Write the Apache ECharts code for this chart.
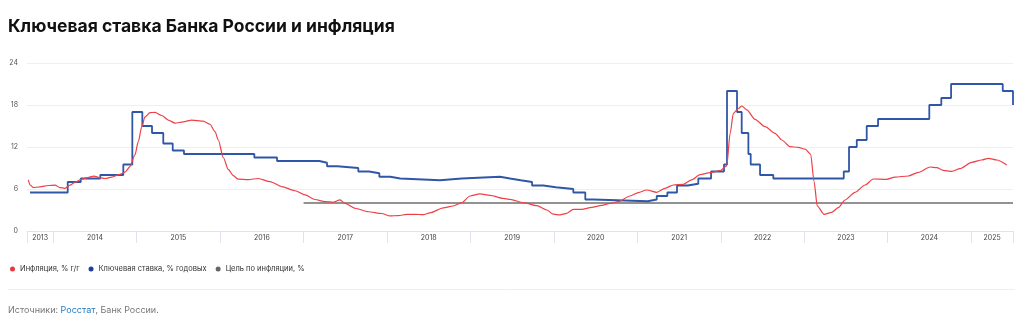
<!DOCTYPE html>
<html>
<head>
<meta charset="utf-8">
<script src="https://cdn.jsdelivr.net/npm/echarts@6/dist/echarts.min.js"></script>
<style>
  html, body { margin: 0; padding: 0; background: #fff; }
  #chart { width: 1023px; height: 327px; }
</style>
</head>
<body>
<div id="chart"></div>
<script>
// Time is expressed in decimal years.
const xStart = 2013.686;
const xEnd = 2025.501;

// Year boundaries and the years named between them
const yearBoundaries = [2014, 2015, 2016, 2017, 2018, 2019, 2020, 2021, 2022, 2023, 2024, 2025];
const yearNames = ['2013', '2014', '2015', '2016', '2017', '2018', '2019', '2020', '2021', '2022', '2023', '2024', '2025'];

// Value-axis ticks
const valueTicks = [0, 6, 12, 18, 24];

// Key rate: date each level takes effect, % per annum
const keyRateDates = [
  2013.722, 2014.174, 2014.330, 2014.564, 2014.840, 2014.948,
  2015.068, 2015.184, 2015.319, 2015.432, 2015.567,
  2016.410, 2016.682,
  2017.189, 2017.281, 2017.404, 2017.656, 2017.784, 2017.908,
  2018.040, 2018.159, 2018.635, 2018.895,
  2019.354, 2019.474, 2019.602, 2019.738, 2019.873,
  2020.022, 2020.232, 2020.376, 2020.472,
  2021.124, 2021.232, 2021.359, 2021.475, 2021.603, 2021.730, 2021.883,
  2022.038, 2022.074, 2022.194, 2022.250, 2022.330, 2022.358, 2022.470, 2022.629,
  2023.473, 2023.536, 2023.629, 2023.748, 2023.884,
  2024.498, 2024.642, 2024.759,
  2025.378, 2025.501
];
const keyRateValues = [
  5.5, 7, 7.5, 8, 9.5, 17,
  15, 14, 12.5, 11.5, 11,
  10.5, 10,
  9.75, 9.25, 9, 8.5, 8.25, 7.75,
  7.5, 7.25, 7.5, 7.75,
  7.5, 7.25, 7, 6.5, 6.25,
  6, 5.5, 4.5, 4.25,
  4.5, 5, 5.5, 6.5, 6.75, 7.5, 8.5,
  9.5, 20, 17, 14, 11, 9.5, 8, 7.5,
  8.5, 12, 13, 15, 16,
  18, 19, 21,
  20, 18
];

// Inflation, % year over year
const inflationDates = [
  2013.702, 2013.722, 2013.762, 2013.842, 2013.941,
  2014.022, 2014.081, 2014.141, 2014.201, 2014.261, 2014.341, 2014.401, 2014.489, 2014.561, 2014.621, 2014.701, 2014.800, 2014.860, 2014.920, 2014.980,
  2015.020, 2015.061, 2015.100, 2015.160, 2015.220, 2015.300, 2015.379, 2015.460, 2015.559, 2015.660, 2015.798, 2015.879, 2015.939, 2015.978,
  2016.038, 2016.098, 2016.158, 2016.218, 2016.338, 2016.458, 2016.598, 2016.738, 2016.898,
  2017.018, 2017.137, 2017.257, 2017.357, 2017.437, 2017.497, 2017.617, 2017.776, 2017.936,
  2018.036, 2018.135, 2018.236, 2018.335, 2018.435, 2018.515, 2018.675, 2018.794, 2018.895, 2018.995,
  2019.114, 2019.234, 2019.394, 2019.474, 2019.633, 2019.794, 2019.914, 2019.993,
  2020.073, 2020.153, 2020.232, 2020.333, 2020.453, 2020.573, 2020.672, 2020.772, 2020.912,
  2021.011, 2021.112, 2021.232, 2021.331, 2021.431, 2021.551, 2021.651, 2021.751, 2021.871, 2021.991,
  2022.071, 2022.111, 2022.150, 2022.210, 2022.251, 2022.311, 2022.410, 2022.530, 2022.650, 2022.730, 2022.830, 2022.929,
  2023.009, 2023.077, 2023.117, 2023.156, 2023.237, 2023.329, 2023.408, 2023.488, 2023.608, 2023.728, 2023.827, 2023.988,
  2024.088, 2024.247, 2024.367, 2024.507, 2024.587, 2024.666, 2024.767, 2024.866,
  2025.006, 2025.126, 2025.206, 2025.306, 2025.426
];
const inflationValues = [
  7.3, 6.6, 6.2, 6.3, 6.5,
  6.55, 6.2, 6.1, 6.55, 6.95, 7.4, 7.6, 7.85, 7.6, 7.5, 7.7, 8.1, 8.4, 9.2, 10.9,
  12.8, 14.9, 16.3, 16.9, 16.95, 16.5, 15.85, 15.4, 15.6, 15.85, 15.7, 15.25, 14.2, 13.0,
  10.5, 8.8, 7.9, 7.4, 7.35, 7.5, 7.05, 6.35, 5.75,
  5.15, 4.5, 4.2, 4.1, 4.45, 3.95, 3.25, 2.75, 2.5,
  2.15, 2.2, 2.38, 2.38, 2.33, 2.6, 3.3, 3.57, 4.05, 5.0,
  5.3, 5.1, 4.67, 4.52, 4.05, 3.62, 3.0, 2.4,
  2.3, 2.52, 3.1, 3.1, 3.38, 3.67, 3.95, 4.2, 5.0,
  5.48, 5.86, 5.52, 6.1, 6.57, 6.67, 7.3, 8.05, 8.33, 8.62,
  9.3, 13.9, 16.8, 17.5, 17.86, 17.3, 15.95, 14.9, 13.95, 13.0, 12.05, 11.95,
  11.7, 10.95, 7.05, 3.57, 2.38, 2.67, 3.33, 4.43, 5.52, 6.57, 7.43, 7.38,
  7.71, 7.86, 8.38, 9.14, 9.05, 8.67, 8.52, 8.9,
  9.81, 10.14, 10.38, 10.14, 9.43
];

// Inflation target, %
const targetDates = [2017.0, 2025.501];
const targetValues = [4, 4];

const seriesNames = ['Инфляция, % г/г', 'Ключевая ставка, % годовых', 'Цель по инфляции, %'];
const titleText = 'Ключевая ставка Банка России и инфляция';

const zip = (xs, ys) => xs.map((x, i) => [x, ys[i]]);

// Year names sit halfway between neighbouring boundaries
const bounds = [xStart].concat(yearBoundaries, [xEnd]);
const yearLabelPositions = yearNames.map((_, i) => (bounds[i] + bounds[i + 1]) / 2);

const FONT = 'Inter, Roboto, sans-serif';

const chart = echarts.init(document.getElementById('chart'), null, { renderer: 'canvas' });

chart.setOption({
  animation: false,
  backgroundColor: '#ffffff',
  textStyle: { fontFamily: FONT },
  title: [
    {
      text: titleText,
      left: 8,
      top: 18,
      padding: 0,
      textStyle: { fontFamily: FONT, fontSize: 17.5, fontWeight: 700, color: '#111111' }
    },
    {
      text: '{a|Источники: }{b|Росстат}{a|, Банк России.}',
      left: 8,
      top: 306,
      padding: 0,
      textStyle: {
        fontFamily: FONT,
        fontSize: 9,
        fontWeight: 400,
        rich: {
          a: { fontFamily: FONT, fontSize: 9, fontWeight: 400, color: '#777777' },
          b: { fontFamily: FONT, fontSize: 9, fontWeight: 400, color: '#1f7ac0' }
        }
      }
    }
  ],
  legend: {
    left: 10,
    top: 265,
    padding: 0,
    icon: 'circle',
    itemWidth: 5,
    itemHeight: 5,
    itemGap: 9,
    textStyle: { fontFamily: FONT, fontSize: 7.5, color: '#333333' },
    data: [
      { name: seriesNames[0], itemStyle: { color: '#e5383f' } },
      { name: seriesNames[1], itemStyle: { color: '#1f3f96' } },
      { name: seriesNames[2], itemStyle: { color: '#666666' } }
    ]
  },
  graphic: [
    {
      type: 'line',
      shape: { x1: 8, y1: 289.5, x2: 1015, y2: 289.5 },
      style: { stroke: '#eeeeee', lineWidth: 1 },
      silent: true
    }
  ],
  grid: { left: 27, right: 10, top: 63, bottom: 96, containLabel: false },
  xAxis: {
    type: 'value',
    min: xStart,
    max: xEnd,
    axisLine: { show: true, lineStyle: { color: '#dde3ef', width: 1 } },
    axisTick: {
      show: true,
      length: 12,
      inside: false,
      lineStyle: { color: '#dde3ef', width: 1 },
      customValues: bounds
    },
    axisLabel: {
      show: true,
      customValues: yearLabelPositions,
      formatter: v => String(Math.floor(v + 1e-6)),
      fontFamily: FONT,
      fontSize: 7,
      color: '#444444',
      margin: 3
    },
    splitLine: { show: false }
  },
  yAxis: {
    type: 'value',
    min: valueTicks[0],
    max: valueTicks[valueTicks.length - 1],
    interval: 6,
    axisLine: { show: false },
    axisTick: { show: false },
    axisLabel: { fontFamily: FONT, fontSize: 7, color: '#555555', margin: 9 },
    splitLine: { show: true, lineStyle: { color: '#efefef', width: 1 } }
  },
  series: [
    {
      name: seriesNames[0],
      type: 'line',
      data: zip(inflationDates, inflationValues),
      showSymbol: false,
      smooth: 0.25,
      smoothMonotone: 'x',
      lineStyle: { color: '#ee4047', width: 1.2 },
      itemStyle: { color: '#e5383f' },
      z: 3
    },
    {
      name: seriesNames[1],
      type: 'line',
      step: 'end',
      data: zip(keyRateDates, keyRateValues),
      showSymbol: false,
      lineStyle: { color: '#3056a8', width: 1.8 },
      itemStyle: { color: '#1f3f96' },
      z: 2
    },
    {
      name: seriesNames[2],
      type: 'line',
      data: zip(targetDates, targetValues),
      showSymbol: false,
      lineStyle: { color: '#6e6e6e', width: 1.4 },
      itemStyle: { color: '#666666' },
      z: 1
    }
  ]
});
</script>
</body>
</html>
